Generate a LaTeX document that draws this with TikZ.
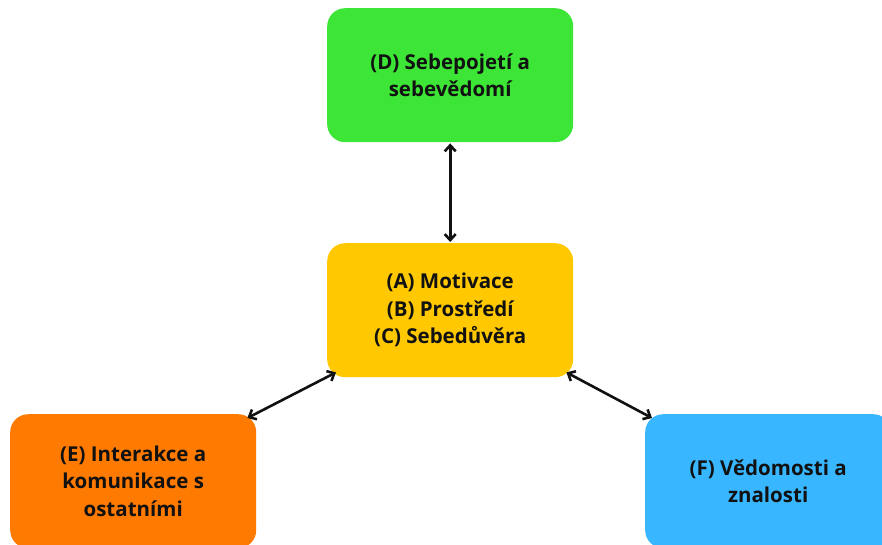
\documentclass[tikz,border=0pt]{standalone}
\usepackage{fontspec}
\setmainfont{Open Sans}
\usetikzlibrary{arrows.meta}
\definecolor{cgreen}{HTML}{3DE636}
\definecolor{cyellow}{HTML}{FFC800}
\definecolor{corange}{HTML}{FF7A00}
\definecolor{cblue}{HTML}{38B6FF}
\definecolor{ctext}{HTML}{111111}
\tikzset{
  box/.style={rounded corners=18pt, minimum width=246pt, minimum height=134pt,
    inner sep=0pt, align=center, text=ctext,
    font=\bfseries\fontsize{20.5}{27.5}\selectfont},
  arr/.style={line width=2.6pt, {Straight Barb[length=6pt,width=11pt]}-{Straight Barb[length=6pt,width=11pt]}, draw=ctext}
}
\begin{document}
\begin{tikzpicture}[x=1pt,y=1pt]
\useasboundingbox (0,-544) rectangle (882,0);
\node[box, fill=cgreen, anchor=north west] (d) at (327,-8) {(D) Sebepojetí a\\sebevědomí};
\node[box, fill=cyellow, anchor=north west] (c) at (327,-243) {(A) Motivace\\(B) Prostředí\\(C) Sebedůvěra};
\node[box, fill=corange, anchor=north west] (e) at (10,-414) {(E) Interakce a\\komunikace s\\ostatními};
\node[box, fill=cblue, anchor=north west] (f) at (645,-414) {(F) Vědomosti a\\znalosti};
\draw[arr] ([yshift=-1pt]d.south) -- ([yshift=1pt]c.north);
\draw[arr] ([shift={(9pt,5pt)}]c.south west) -- ([shift={(-9pt,-4pt)}]e.north east);
\draw[arr] ([shift={(-7pt,5pt)}]c.south east) -- ([shift={(7pt,-4pt)}]f.north west);
\end{tikzpicture}
\end{document}
